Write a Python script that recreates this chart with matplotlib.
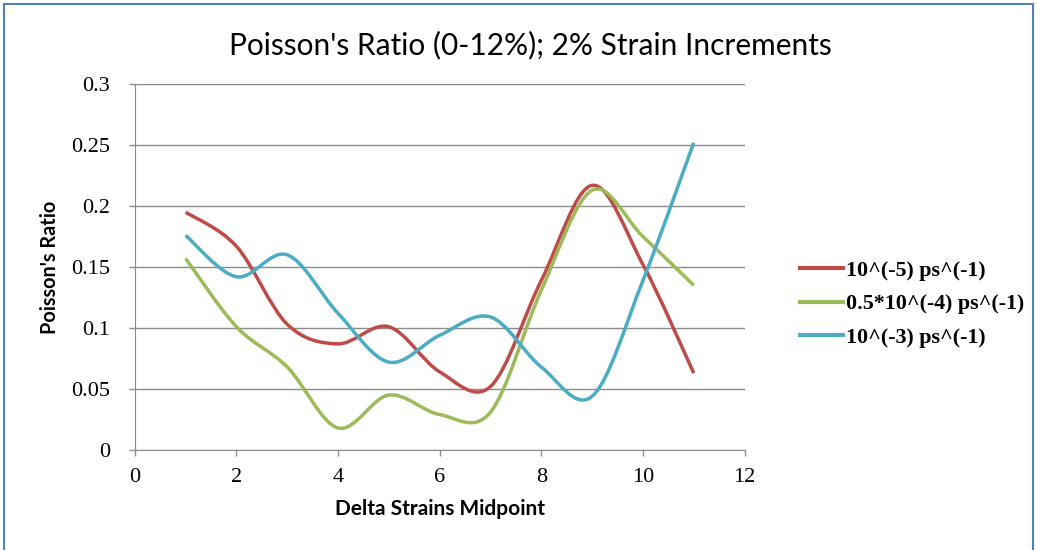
import matplotlib.pyplot as plt
import numpy as np
from matplotlib.path import Path
from matplotlib.patches import PathPatch, Rectangle
from matplotlib.lines import Line2D

# Delta strain midpoints and Poisson's ratio for each strain rate
midpoints = [1, 2, 3, 4, 5, 6, 7, 8, 9, 10, 11]
ratio_1e5 = [0.195, 0.167, 0.103, 0.087, 0.101, 0.064, 0.052, 0.139, 0.217, 0.152, 0.063]
ratio_05e4 = [0.157, 0.101, 0.068, 0.018, 0.045, 0.029, 0.031, 0.131, 0.213, 0.175, 0.135]
ratio_1e3 = [0.176, 0.142, 0.160, 0.112, 0.072, 0.094, 0.109, 0.068, 0.044, 0.139, 0.252]

labels = ['10^(-5) ps^(-1)', '0.5*10^(-4) ps^(-1)', '10^(-3) ps^(-1)']
colors = ['#be4b48', '#9bbb59', '#4bacc6']


def smooth_path(x, y):
    # Catmull-Rom style bezier through every point, like a spreadsheet "smoothed line"
    pts = np.column_stack([x, y]).astype(float)
    verts = [pts[0]]
    codes = [Path.MOVETO]
    n = len(pts)
    for i in range(n - 1):
        p0 = pts[i - 1] if i > 0 else pts[i]
        p1 = pts[i]
        p2 = pts[i + 1]
        p3 = pts[i + 2] if i + 2 < n else pts[i + 1]
        c1 = p1 + (p2 - p0) / 6.0
        c2 = p2 - (p3 - p1) / 6.0
        verts += [c1, c2, p2]
        codes += [Path.CURVE4] * 3
    return Path(verts, codes)


fig = plt.figure(figsize=(10.37, 5.5), dpi=100)
ax = fig.add_axes([0.130, 0.182, 0.588, 0.665])

for ys, c in zip([ratio_1e5, ratio_05e4, ratio_1e3], colors):
    ax.add_patch(PathPatch(smooth_path(midpoints, ys), facecolor='none',
                           edgecolor=c, lw=2.5, capstyle='butt', zorder=3))

ax.set_xlim(0, 12)
ax.set_ylim(0, 0.3)
ax.set_xticks(range(0, 13, 2))
ax.set_yticks(np.arange(0, 0.31, 0.05))
ax.set_yticklabels(['0', '0.05', '0.1', '0.15', '0.2', '0.25', '0.3'])
ax.yaxis.grid(True, color='#8c8c8c', lw=1)
ax.set_axisbelow(True)
for s in ['top', 'right']:
    ax.spines[s].set_visible(False)
for s in ['left', 'bottom']:
    ax.spines[s].set_color('#8c8c8c')
ax.tick_params(axis='both', colors='#8c8c8c', length=4, width=1, labelcolor='black',
               labelsize=16)
ax.tick_params(axis='y', pad=14)
ax.tick_params(axis='x', pad=9)
for lab in ax.get_xticklabels() + ax.get_yticklabels():
    lab.set_family('Liberation Serif')

ax.set_xlabel('Delta Strains Midpoint', family='Lato', fontweight='bold', fontsize=15, labelpad=9)
ax.set_ylabel("Poisson's Ratio", family='Lato', fontweight='bold', fontsize=14.3, labelpad=8)
fig.text(0.511, 0.918, "Poisson's Ratio (0-12%); 2% Strain Increments",
         family='Lato', fontsize=21.5, ha='center', va='center')

handles = [Line2D([0], [0], color=c, lw=3) for c in colors]
fig.legend(handles, labels, loc='center left', bbox_to_anchor=(0.752, 0.447),
           frameon=False, handlelength=2.0, handletextpad=0.12, labelspacing=0.6,
           prop={'family': 'Liberation Serif', 'size': 15.8, 'weight': 'bold'})

fig.add_artist(Rectangle((0.004, -0.01), 0.992, 1.003, transform=fig.transFigure,
                         fill=False, edgecolor='#4f81bd', lw=1.5))

fig.savefig('out.png', dpi=100)
